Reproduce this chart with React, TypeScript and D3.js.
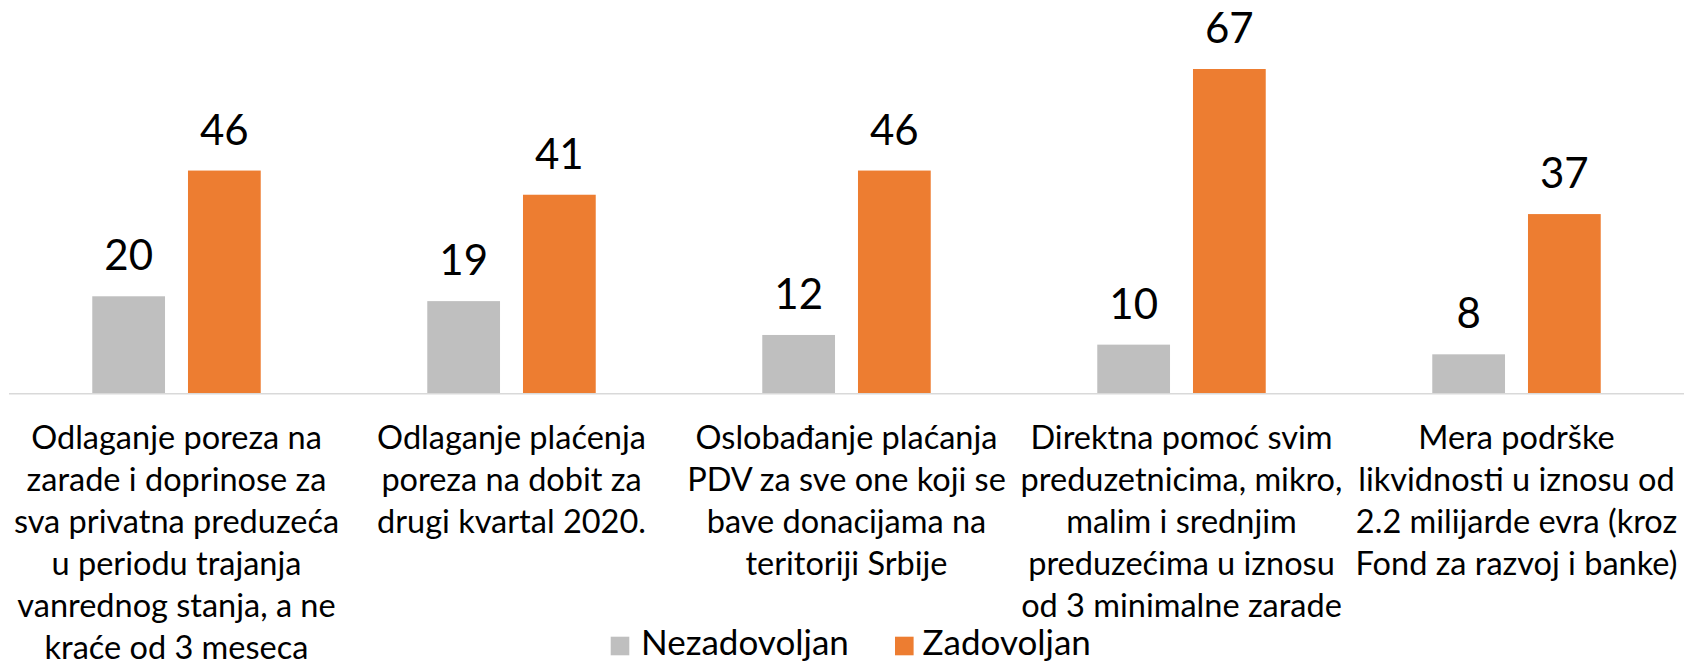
import React from 'react';
import * as d3 from 'd3';

const categories: string[][] = [
  ['Odlaganje poreza na', 'zarade i doprinose za', 'sva privatna preduzeća', 'u periodu trajanja', 'vanrednog stanja, a ne', 'kraće od 3 meseca'],
  ['Odlaganje plaćenja', 'poreza na dobit za', 'drugi kvartal 2020.'],
  ['Oslobađanje plaćanja', 'PDV za sve one koji se', 'bave donacijama na', 'teritoriji Srbije'],
  ['Direktna pomoć svim', 'preduzetnicima, mikro,', 'malim i srednjim', 'preduzećima u iznosu', 'od 3 minimalne zarade'],
  ['Mera podrške', 'likvidnosti u iznosu od', '2.2 milijarde evra (kroz', 'Fond za razvoj i banke)'],
];
const seriesNames = ['Nezadovoljan', 'Zadovoljan'];
const nezadovoljan = [20, 19, 12, 10, 8];
const zadovoljan = [46, 41, 46, 67, 37];
const colors = ['#BFBFBF', '#ED7D31'];

const W = 1688;
const H = 665;
const FONT = 'Lato, "Noto Sans", sans-serif';

export default function App() {
  const keys = categories.map((_, i) => String(i));
  const x = d3.scaleBand<string>().domain(keys).range([9, 1684]).paddingInner(0).paddingOuter(0);
  const xs = d3.scaleBand<string>().domain(seriesNames).range([0, x.bandwidth()]).paddingInner(0.24).paddingOuter(0.87);
  const y = d3.scaleLinear().domain([0, 70]).range([393, 54.5]);
  const series = [nezadovoljan, zadovoljan];

  return (
    <svg width={W} height={H} style={{ position: 'absolute', left: 0, top: 0, background: '#fff' }} fontFamily={FONT}>
      {series.map((vals, si) =>
        vals.map((v, i) => {
          const bx = (x(keys[i]) as number) + (xs(seriesNames[si]) as number);
          return (
            <g key={`${si}-${i}`}>
              <rect x={bx} y={y(v)} width={xs.bandwidth()} height={y(0) - y(v)} fill={colors[si]} />
              <text
                x={bx + xs.bandwidth() / 2}
                y={y(v) - 26}
                textAnchor="middle"
                fontSize={42}
                fill="#000"
              >
                {v}
              </text>
            </g>
          );
        })
      )}
      <line x1={9} x2={1684} y1={393.75} y2={393.75} stroke="#D9D9D9" strokeWidth={1.5} />
      {categories.map((lines, i) => (
        <text
          key={i}
          x={(x(keys[i]) as number) + x.bandwidth() / 2}
          textAnchor="middle"
          fontSize={32.5}
          fill="#000"
        >
          {lines.map((ln, j) => (
            <tspan key={j} x={(x(keys[i]) as number) + x.bandwidth() / 2} y={449 + j * 41.9}>
              {ln}
            </tspan>
          ))}
        </text>
      ))}
      <g>
        <rect x={610.7} y={636.7} width={18.6} height={18.6} fill={colors[0]} />
        <text x={641} y={655} fontSize={35} fill="#000">{seriesNames[0]}</text>
        <rect x={895} y={636.7} width={18.6} height={18.6} fill={colors[1]} />
        <text x={922.6} y={655} fontSize={35} fill="#000">{seriesNames[1]}</text>
      </g>
    </svg>
  );
}
